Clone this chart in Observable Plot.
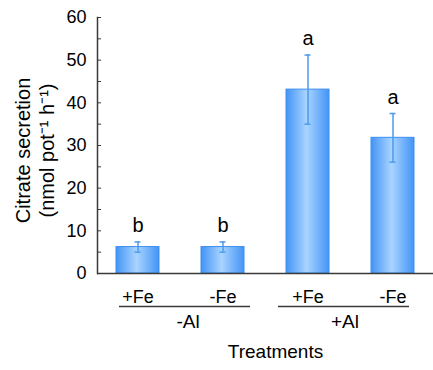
<!DOCTYPE html>
<html>
<head>
<meta charset="utf-8">
<script src="https://cdn.jsdelivr.net/npm/d3@7"></script>
<script src="https://cdn.jsdelivr.net/npm/@observablehq/plot@0.6"></script>
<style>
  html, body { margin: 0; padding: 0; background: #fff; }
</style>
</head>
<body>
<div id="chart"></div>
<script>
// ---- data ----
const categories = ["-Al +Fe", "-Al -Fe", "+Al +Fe", "+Al -Fe"];
const feLabels = ["+Fe", "-Fe", "+Fe", "-Fe"];
const means = [6.2, 6.2, 43.1, 31.8];
const errors = [1.2, 1.2, 8.1, 5.7];
const letters = ["b", "b", "a", "a"];
const alGroups = ["-Al", "+Al"];
const groupFirst = ["-Al +Fe", "+Al +Fe"];
const groupLast = ["-Al -Fe", "+Al -Fe"];
const yTicks = [0, 10, 20, 30, 40, 50, 60];
const yMinorTicks = [0, 5, 10, 15, 20, 25, 30, 35, 40, 45, 50, 55, 60];
const yLabel = "Citrate secretion\n(nmol pot\u207B\u00B9 h\u207B\u00B9)";
const xLabel = "Treatments";

const rows = categories.map((c, i) => ({
  cat: c, fe: feLabels[i], mean: means[i], err: errors[i], letter: letters[i]
}));
const groups = alGroups.map((g, i) => ({name: g, first: groupFirst[i], last: groupLast[i]}));

const barBlue = "#3f8ff0";
const errBlue = "#4a9bec";
const axisColor = "#3a3a3a";

const chart = Plot.plot({
  width: 433,
  height: 370,
  marginLeft: 97,
  marginRight: 0,
  marginTop: 17,
  marginBottom: 97,
  style: {fontFamily: "'Liberation Sans', Arial, sans-serif", background: "#fff", color: "#000"},
  x: {domain: categories, paddingInner: 0.49, paddingOuter: 0.22, axis: null},
  y: {domain: [0, 60], axis: null},
  marks: [
    Plot.barY(rows, {x: "cat", y: "mean", fill: "url(#barGrad)", stroke: barBlue, strokeWidth: 1}),
    Plot.ruleX(rows, {x: "cat", y1: d => d.mean - d.err, y2: d => d.mean + d.err, stroke: errBlue, strokeWidth: 1.5}),
    Plot.tickY(rows, {x: "cat", y: d => d.mean + d.err, insetLeft: 18.5, insetRight: 18.5, stroke: errBlue, strokeWidth: 1.5}),
    Plot.tickY(rows, {x: "cat", y: d => d.mean - d.err, insetLeft: 18.5, insetRight: 18.5, stroke: errBlue, strokeWidth: 1.5}),
    Plot.text(rows, {x: "cat", y: d => d.mean + d.err, text: "letter", dy: -10, lineAnchor: "bottom", fontSize: 20, fill: "#000"}),
    // axes
    Plot.axisY({ticks: yMinorTicks, tickSize: -4, tickFormat: () => "", label: null, stroke: axisColor}),
    Plot.axisY({ticks: yTicks, tickSize: 0, tickPadding: 11, fontSize: 18, label: null}),
    Plot.frame({anchor: "left", stroke: axisColor, strokeWidth: 1.5}),
    Plot.ruleY([0], {stroke: axisColor, strokeWidth: 1.5}),
    // category labels
    Plot.text(rows, {x: "cat", y: 0, text: "fe", dy: 24, fontSize: 18, fill: "#000"}),
    Plot.ruleY(groups.slice(0, 1), {x1: "first", x2: "last", y: 0, dy: 33, insetLeft: 3, insetRight: -6, stroke: axisColor, strokeWidth: 1.5}),
    Plot.ruleY(groups.slice(1, 2), {x1: "first", x2: "last", y: 0, dy: 33, insetLeft: -8, insetRight: 5, stroke: axisColor, strokeWidth: 1.5}),
    Plot.text(groups.slice(0, 1), {x: "first", y: 0, text: "name", dx: 50, dy: 48, fontSize: 19, fill: "#000"}),
    Plot.text(groups.slice(1, 2), {x: "first", y: 0, text: "name", dx: 37, dy: 48, fontSize: 19, fill: "#000"}),
    Plot.text([xLabel], {frameAnchor: "bottom", text: d => d, dx: 10, dy: 84, fontSize: 19, fill: "#000"}),
    Plot.text([yLabel], {frameAnchor: "left", textAnchor: "middle", text: d => d, rotate: -90, dx: -63, dy: 5, lineHeight: 1.2, fontSize: 20, fill: "#000"})
  ]
});

// horizontal gradient for the bars
const svg = d3.select(chart);
const grad = svg.insert("defs", ":first-child")
  .append("linearGradient").attr("id", "barGrad")
  .attr("x1", "0%").attr("x2", "100%").attr("y1", "0%").attr("y2", "0%");
grad.append("stop").attr("offset", "0%").attr("stop-color", "#4394f6");
grad.append("stop").attr("offset", "48%").attr("stop-color", "#a9d4ff");
grad.append("stop").attr("offset", "100%").attr("stop-color", "#4394f6");

document.getElementById("chart").appendChild(chart);
</script>
</body>
</html>
